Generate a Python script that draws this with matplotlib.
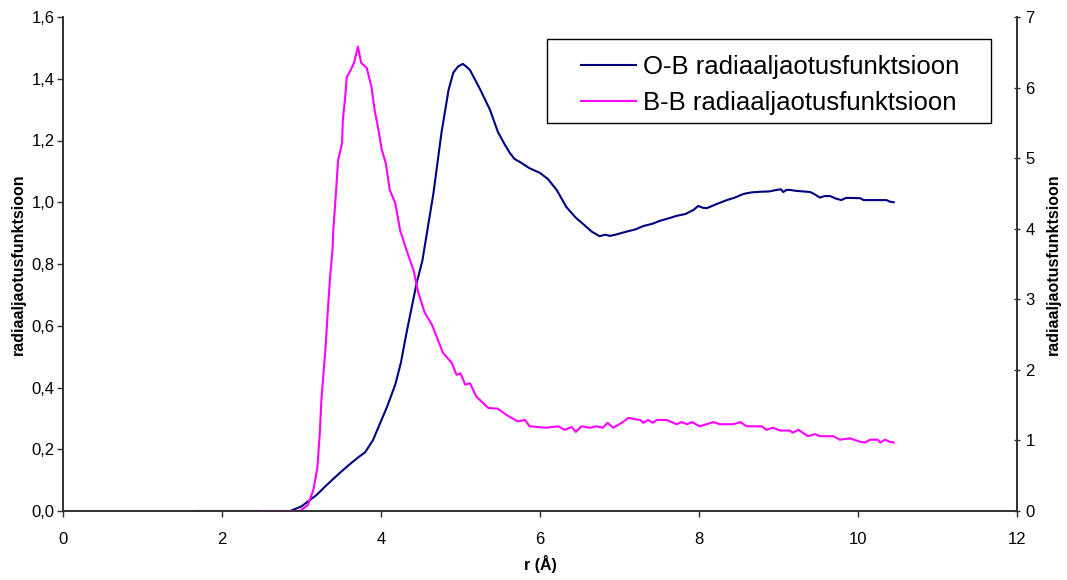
import matplotlib
matplotlib.use("Agg")
import matplotlib.pyplot as plt
from matplotlib.ticker import FuncFormatter
from matplotlib.patches import Rectangle

plt.rcParams['font.family'] = ['Liberation Sans', 'DejaVu Sans']

# O-B radial distribution (left axis)
ob_r = [1.66, 2.0, 2.5, 2.86, 3.0, 3.19, 3.3, 3.48, 3.6, 3.72, 3.80, 3.90, 3.99,
        4.08, 4.18, 4.25, 4.32, 4.45, 4.52, 4.66, 4.76, 4.85, 4.91, 4.97, 5.03,
        5.07, 5.12, 5.25, 5.37, 5.47, 5.55, 5.62, 5.68, 5.75, 5.87, 6.0, 6.1,
        6.21, 6.33, 6.45, 6.54, 6.65, 6.75, 6.82, 6.88, 6.95, 7.09, 7.2, 7.30,
        7.41, 7.51, 7.62, 7.72, 7.83, 7.93, 7.99, 8.05, 8.10, 8.22, 8.35, 8.45,
        8.56, 8.66, 8.77, 8.88, 8.98, 9.03, 9.06, 9.10, 9.14, 9.22, 9.4, 9.46,
        9.52, 9.58, 9.65, 9.72, 9.79, 9.85, 9.9, 10.03, 10.07, 10.2, 10.36,
        10.40, 10.45]
ob_g = [0.0, 0.0, 0.0, 0.0, 0.015, 0.052, 0.08, 0.123, 0.15, 0.175, 0.19, 0.23, 0.285,
        0.34, 0.41, 0.48, 0.576, 0.74, 0.81, 1.03, 1.224, 1.364, 1.42, 1.44, 1.448,
        1.44, 1.428, 1.364, 1.30, 1.228, 1.19, 1.16, 1.14, 1.13, 1.11, 1.095, 1.075,
        1.04, 0.985, 0.95, 0.93, 0.905, 0.89, 0.895, 0.891, 0.895, 0.905, 0.912, 0.923,
        0.93, 0.94, 0.948, 0.956, 0.962, 0.975, 0.988, 0.982, 0.981, 0.994, 1.007, 1.015,
        1.027, 1.032, 1.034, 1.035, 1.04, 1.042, 1.033, 1.04, 1.04, 1.037, 1.033, 1.025,
        1.015, 1.02, 1.02, 1.012, 1.007, 1.014, 1.014, 1.013, 1.007, 1.007, 1.007,
        1.002, 1.0]

# B-B radial distribution (right axis)
bb_r = [2.50, 2.8, 2.98, 3.08, 3.15, 3.20, 3.23, 3.25, 3.30, 3.34, 3.36, 3.39, 3.40,
        3.43, 3.46, 3.51, 3.52, 3.55, 3.57, 3.62, 3.66, 3.71, 3.75, 3.82, 3.88,
        3.92, 3.96, 4.01, 4.06, 4.11, 4.18, 4.24, 4.32, 4.41, 4.47, 4.55, 4.64,
        4.78, 4.89, 4.95, 5.0, 5.06, 5.12, 5.20, 5.35, 5.47, 5.58, 5.72, 5.81,
        5.87, 6.08, 6.23, 6.31, 6.40, 6.45, 6.52, 6.63, 6.71, 6.79, 6.85, 6.92,
        7.03, 7.11, 7.20, 7.26, 7.30, 7.36, 7.42, 7.47, 7.59, 7.72, 7.78, 7.85,
        7.91, 8.01, 8.18, 8.26, 8.43, 8.52, 8.60, 8.79, 8.85, 8.93, 9.02, 9.14,
        9.18, 9.25, 9.37, 9.46, 9.52, 9.69, 9.77, 9.90, 10.03, 10.09, 10.15,
        10.25, 10.28, 10.34, 10.40, 10.45]
bb_g = [0.0, 0.0, 0.0, 0.085, 0.30, 0.62, 1.10, 1.57, 2.28, 2.99, 3.32, 3.70, 3.98,
        4.45, 4.97, 5.21, 5.54, 5.87, 6.15, 6.25, 6.35, 6.58, 6.35, 6.28, 6.01,
        5.68, 5.45, 5.12, 4.93, 4.55, 4.36, 3.98, 3.70, 3.41, 3.09, 2.81, 2.64,
        2.24, 2.10, 1.93, 1.95, 1.79, 1.81, 1.62, 1.46, 1.45, 1.36, 1.27, 1.29,
        1.20, 1.18, 1.20, 1.15, 1.19, 1.12, 1.20, 1.18, 1.20, 1.18, 1.25, 1.18,
        1.25, 1.32, 1.30, 1.29, 1.25, 1.29, 1.25, 1.29, 1.29, 1.23, 1.26, 1.23,
        1.26, 1.20, 1.26, 1.23, 1.23, 1.26, 1.20, 1.20, 1.15, 1.18, 1.14, 1.14,
        1.11, 1.15, 1.06, 1.09, 1.06, 1.06, 1.01, 1.03, 0.98, 0.97, 1.01,
        1.01, 0.97, 1.01, 0.98, 0.97]

x_ticks = [0, 2, 4, 6, 8, 10, 12]
left_ticks = [0.0, 0.2, 0.4, 0.6, 0.8, 1.0, 1.2, 1.4, 1.6]
right_ticks = [0, 1, 2, 3, 4, 5, 6, 7]
labels = ["O-B radiaaljaotusfunktsioon", "B-B radiaaljaotusfunktsioon"]
ylabel = "radiaaljaotusfunktsioon"
xlabel = "r (Å)"

W, H = 1067, 580
fig = plt.figure(figsize=(W / 100, H / 100), dpi=100)
ax = fig.add_axes([63 / W, 1 - 511 / H, (1017 - 63) / W, (511 - 17) / H])
ax2 = ax.twinx()

l1, = ax.plot(ob_r, ob_g, color='#000080', lw=1.5)
l2, = ax2.plot(bb_r, bb_g, color='#FF00FF', lw=1.5)

ax.set_xlim(0, 12)
ax.set_ylim(0, 1.6)
ax2.set_ylim(0, 7)
ax.set_xticks(x_ticks)
ax.set_yticks(left_ticks)
ax2.set_yticks(right_ticks)
ax.yaxis.set_major_formatter(FuncFormatter(lambda v, p: f"{v:.1f}".replace('.', ',')))

for a in (ax, ax2):
    a.spines['top'].set_visible(False)
    for s in ('left', 'right', 'bottom'):
        a.spines[s].set_color('#303030')
        a.spines[s].set_linewidth(1.2)
ax.tick_params(axis='x', labelsize=12, length=4, color='#303030', width=1, pad=11)
ax.tick_params(axis='y', labelsize=12, length=4, color='#303030', width=1, pad=2)
ax2.tick_params(axis='y', labelsize=12, length=4, color='#303030', width=1,
                direction='inout', pad=4)

ax.set_xlabel(xlabel, fontsize=11.5, fontweight='bold', labelpad=6)
ax.set_ylabel(ylabel, fontsize=11.5, fontweight='bold', labelpad=4)
ax2.set_ylabel(ylabel, fontsize=11.5, fontweight='bold', labelpad=8)

# legend frame box (drawn separately to match uneven padding)
fig.add_artist(Rectangle((547 / W, 1 - 123 / H), (991 - 547) / W, (123 - 39) / H,
                         transform=fig.transFigure, facecolor='white',
                         edgecolor='black', lw=1.0, zorder=5))
leg = fig.legend([l1, l2], labels, loc='upper left',
                 bbox_to_anchor=(581 / W, 1 - 55 / H),
                 fontsize=18.5, frameon=False, handlelength=2.15,
                 borderpad=0.0, labelspacing=0.48, handletextpad=0.25,
                 borderaxespad=0)
leg.set_zorder(6)

fig.savefig('out.png', dpi=100)
